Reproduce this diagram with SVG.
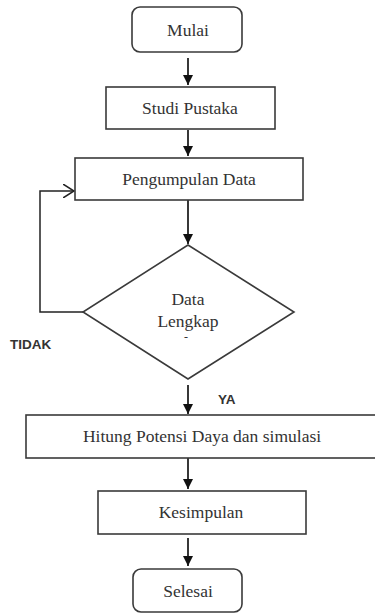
<svg xmlns="http://www.w3.org/2000/svg" width="375" height="613" viewBox="0 0 375 613">
<defs>
<style>
.box{fill:#fff;stroke:#3a3a3a;stroke-width:1.6}
.ln{fill:none;stroke:#222;stroke-width:1.8}
.fb{fill:none;stroke:#222;stroke-width:1.5}
</style>
<marker id="ah" viewBox="0 0 10 10" refX="10" refY="5" markerWidth="10" markerHeight="10" markerUnits="userSpaceOnUse" orient="auto">
<path d="M0,0 L10,5 L0,10 Z" fill="#111"/>
</marker>
<marker id="oh" viewBox="0 0 12 14" refX="11" refY="7" markerWidth="12" markerHeight="14" markerUnits="userSpaceOnUse" orient="auto">
<path d="M0,0 L11,7 L0,14" fill="none" stroke="#222" stroke-width="1.5"/>
</marker>
</defs>
<rect width="375" height="613" fill="#fff"/>
<g id="connectors">
<line class="ln" x1="188" y1="58" x2="188" y2="85" marker-end="url(#ah)"/>
<line class="ln" x1="188" y1="130" x2="188" y2="156" marker-end="url(#ah)"/>
<line class="ln" x1="188" y1="200" x2="188" y2="244" marker-end="url(#ah)"/>
<polyline class="fb" points="83,312 40,312 40,191 74,191" marker-end="url(#oh)"/>
<line class="ln" x1="188" y1="385" x2="188" y2="414" marker-end="url(#ah)"/>
<line class="ln" x1="188" y1="458" x2="188" y2="489" marker-end="url(#ah)"/>
<line class="ln" x1="188" y1="538" x2="188" y2="566" marker-end="url(#ah)"/>
<text x="10" y="349" font-family="Liberation Sans" font-size="13.5" font-weight="bold" fill="#333">TIDAK</text>
<text x="218" y="404" font-family="Liberation Sans" font-size="13.5" font-weight="bold" fill="#333">YA</text>
</g>
<g id="mulai">
<rect class="box" x="132" y="7" width="110" height="45" rx="8"/>
<text x="188" y="36" font-family="Liberation Serif" font-size="17.5" fill="#333" text-anchor="middle">Mulai</text>
</g>
<g id="studi">
<rect class="box" x="106" y="87" width="169" height="42"/>
<text x="190" y="114" font-family="Liberation Serif" font-size="17.5" fill="#333" text-anchor="middle">Studi Pustaka</text>
</g>
<g id="pengumpulan">
<rect class="box" x="75" y="158" width="228" height="42"/>
<text x="189" y="185" font-family="Liberation Serif" font-size="17.5" fill="#333" text-anchor="middle">Pengumpulan Data</text>
</g>
<g id="cek">
<polygon class="box" points="188,245 294,312 188,379 83,312"/>
<text x="188" y="305" font-family="Liberation Serif" font-size="17.5" fill="#333" text-anchor="middle">Data</text>
<text x="188" y="327" font-family="Liberation Serif" font-size="17.5" fill="#333" text-anchor="middle">Lengkap</text>
<text x="186" y="341" font-family="Liberation Serif" font-size="12" fill="#333" text-anchor="middle">-</text>
</g>
<g id="hitung">
<rect class="box" x="26" y="415" width="365" height="43"/>
<text x="202" y="442" font-family="Liberation Serif" font-size="17.5" fill="#333" text-anchor="middle">Hitung Potensi Daya dan simulasi</text>
</g>
<g id="kesimpulan">
<rect class="box" x="98" y="491" width="208" height="43"/>
<text x="201" y="518" font-family="Liberation Serif" font-size="17.5" fill="#333" text-anchor="middle">Kesimpulan</text>
</g>
<g id="selesai">
<rect class="box" x="133" y="569" width="109" height="43" rx="8"/>
<text x="188" y="597" font-family="Liberation Serif" font-size="17.5" fill="#333" text-anchor="middle">Selesai</text>
</g>
</svg>
